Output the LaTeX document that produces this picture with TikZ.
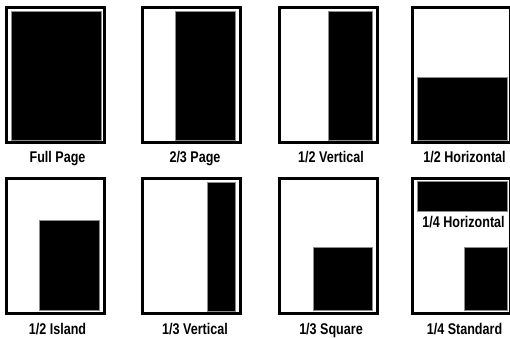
\documentclass[tikz,border=0pt]{standalone}
\usepackage{fontspec}
\setmainfont{Liberation Sans}[FakeStretch=0.81]
\begin{document}
\begin{tikzpicture}[x=1pt,y=-1pt,
  frame/.style={draw=black,line width=3pt,fill=white},
  ad/.style={fill=black,draw=black!45,line width=0.6pt},
  lbl/.style={anchor=base,inner sep=0pt,font=\fontsize{15.5}{17}\selectfont\bfseries}]
\useasboundingbox (0,0) rectangle (510,337);
% row 1 frames
\draw[frame] (6.5,7.5) rectangle (104.5,142.5);
\draw[frame] (142.5,7.5) rectangle (240.5,142.5);
\draw[frame] (279.5,7.5) rectangle (377.5,142.5);
\draw[frame] (412.5,7.5) rectangle (510.5,142.5);
% row 2 frames
\draw[frame] (6.5,178.5) rectangle (104.5,313.5);
\draw[frame] (142.5,178.5) rectangle (240.5,313.5);
\draw[frame] (279.5,178.5) rectangle (377.5,313.5);
\draw[frame] (412.5,178.5) rectangle (510.5,313.5);
% ads row 1
\draw[ad] (11,11) rectangle (101.5,140);
\draw[ad] (175,11) rectangle (235.5,140);
\draw[ad] (328,11) rectangle (372,140);
\draw[ad] (417,77) rectangle (507,140);
% ads row 2
\draw[ad] (39,220) rectangle (99,310);
\draw[ad] (207,182) rectangle (235.5,311);
\draw[ad] (313,247) rectangle (372,310);
\draw[ad] (417,181) rectangle (507,211);
\draw[ad] (464,247) rectangle (507,310);
% labels
\node[lbl] (l1) at (57.5,162.7) {Full Page};
\node[lbl] (l2) at (195,162.7) {2/3 Page};
\node[lbl] (l3) at (331,162.7) {1/2 Vertical};
\node[lbl] (l4) at (464.5,162.7) {1/2 Horizontal};
\node[lbl] (l5) at (57.5,334.5) {1/2 Island};
\node[lbl] (l6) at (195,334.5) {1/3 Vertical};
\node[lbl] (l7) at (331,334.5) {1/3 Square};
\node[lbl] (l8) at (464.5,334.5) {1/4 Standard};
\node[lbl] (l9) at (463.5,227) {1/4 Horizontal};
\end{tikzpicture}
\end{document}
